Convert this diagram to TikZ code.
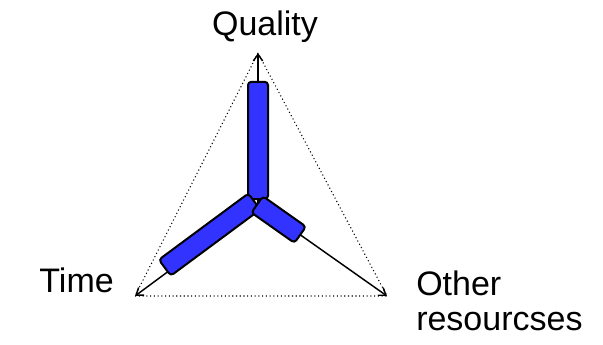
\documentclass[tikz,border=0pt]{standalone}
\usepackage{fontspec}
\setmainfont{Liberation Sans}
\usetikzlibrary{arrows.meta,calc}
\definecolor{barblue}{HTML}{3333FF}

\begin{document}
\begin{tikzpicture}[x=0.75pt,y=-0.75pt,
  lbl/.style={font=\fontsize{25.5}{26.25}\selectfont,inner sep=0pt},
  tri/.style={dotted,line width=0.8pt},
  axis/.style={-{Straight Barb[length=5pt,width=7pt]},line width=1.1pt},
  bar/.style={draw=black,line width=1.5pt,fill=barblue,rounded corners=2.5pt,
              minimum height=15pt,inner sep=0pt}]
  \useasboundingbox (0,0) rectangle (603,344);

  % corners and centre
  \coordinate (o) at (258,205);
  \coordinate (q) at (258,53);
  \coordinate (t) at (135,296);
  \coordinate (r) at (387,296);

  \draw[tri] (q) -- (t) -- (r) -- cycle;
  \draw[axis] (o) -- (q);
  \draw[axis] (o) -- (t);
  \draw[axis] (o) -- (r);

  % the three bars
  \node[bar,minimum width=88pt,rotate=90] (bq) at ($(o)!48.4pt!(q)$) {};
  \node[bar,minimum width=83.5pt,rotate=36.5] (bt) at ($(o)!42.4pt!(t)+(-3,-4)$) {};
  \node[bar,minimum width=39.5pt,rotate=-35.2] (br) at ($(o)!19pt!(r)$) {};

  \node[lbl,anchor=base] (lq) at (265,35) {Quality};
  \node[lbl,anchor=base east] (lt) at (114,292) {Time};
  \node[lbl,anchor=base west,align=left] (lr) at (416,330) {Other\\resourcses};
\end{tikzpicture}
\end{document}
